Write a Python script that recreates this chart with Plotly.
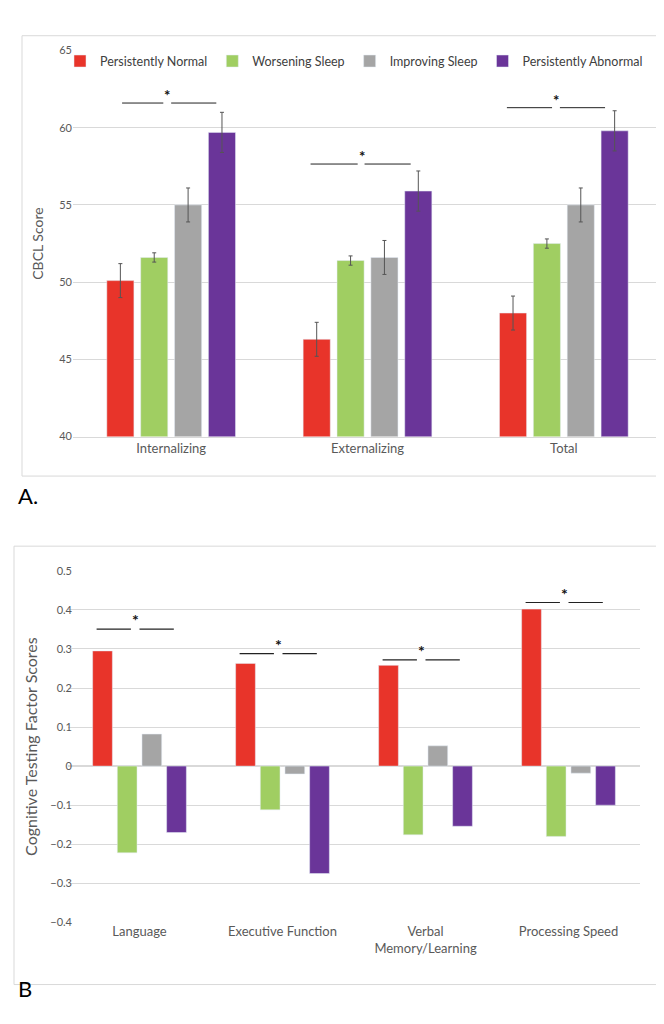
import plotly.graph_objects as go

groups = ["Persistently Normal", "Worsening Sleep", "Improving Sleep", "Persistently Abnormal"]
colors = ["#E8342A", "#A0CE62", "#A5A5A5", "#6A3599"]

cats_a = ["Internalizing", "Externalizing", "Total"]
vals_a = {
    "Persistently Normal": [50.1, 46.3, 48.0],
    "Worsening Sleep": [51.6, 51.4, 52.5],
    "Improving Sleep": [55.0, 51.6, 55.0],
    "Persistently Abnormal": [59.7, 55.9, 59.8],
}
err_a = {
    "Persistently Normal": [1.1, 1.1, 1.1],
    "Worsening Sleep": [0.3, 0.3, 0.3],
    "Improving Sleep": [1.1, 1.1, 1.1],
    "Persistently Abnormal": [1.3, 1.3, 1.3],
}
sig_a = [(-0.25, -0.04, 0.0, 0.23, -0.02, 61.6, 62.1),
         (-0.29, -0.05, -0.015, 0.22, -0.03, 57.65, 58.15),
         (-0.29, -0.06, -0.02, 0.21, -0.04, 61.3, 61.8)]

cats_b = ["Language", "Executive Function", "Verbal<br>Memory/Learning", "Processing Speed"]
vals_b = {
    "Persistently Normal": [0.295, 0.263, 0.258, 0.402],
    "Worsening Sleep": [-0.222, -0.112, -0.176, -0.180],
    "Improving Sleep": [0.082, -0.020, 0.052, -0.018],
    "Persistently Abnormal": [-0.170, -0.275, -0.154, -0.100],
}
sig_b_y = [0.351, 0.288, 0.272, 0.419]
sig_b_star = [0.375, 0.312, 0.296, 0.443]

fig = go.Figure()
for g, c in zip(groups, colors):
    fig.add_trace(go.Bar(x=cats_a, y=vals_a[g], name=g, marker_color=c, xaxis="x", yaxis="y",
                         error_y=dict(type="data", array=err_a[g], color="#555", thickness=1, width=2)))
for g, c in zip(groups, colors):
    fig.add_trace(go.Bar(x=cats_b, y=vals_b[g], name=g, marker_color=c, xaxis="x2", yaxis="y2",
                         showlegend=False))

shapes = []
annotations = []
for i, (a0, a1, b0, b1, s, y, ys) in enumerate(sig_a):
    for x0, x1 in [(a0, a1), (b0, b1)]:
        shapes.append(dict(type="line", xref="x", yref="y", x0=i + x0, x1=i + x1, y0=y, y1=y,
                           line=dict(color="#222", width=1)))
    annotations.append(dict(text="<b>*</b>", xref="x", yref="y", x=i + s, y=ys, showarrow=False,
                            font=dict(size=15, color="#111")))
for i, (y, ys) in enumerate(zip(sig_b_y, sig_b_star)):
    for x0, x1 in [(-0.3, -0.06), (0.0, 0.24)]:
        shapes.append(dict(type="line", xref="x2", yref="y2", x0=i + x0, x1=i + x1, y0=y, y1=y,
                           line=dict(color="#222", width=1.2)))
    annotations.append(dict(text="<b>*</b>", xref="x2", yref="y2", x=i - 0.03, y=ys, showarrow=False,
                            font=dict(size=16, color="#111")))

shapes.append(dict(type="rect", xref="paper", yref="paper", x0=14/664, x1=1.0, y0=1-467/1024, y1=1-21/1024,
                   line=dict(color="#D9D9D9", width=1)))
shapes.append(dict(type="rect", xref="paper", yref="paper", x0=6/664, x1=1.0, y0=1-982/1024, y1=1-538/1024,
                   line=dict(color="#D9D9D9", width=1)))
annotations.append(dict(text="A.", xref="paper", yref="paper", x=8/664, y=1-487/1024, showarrow=False,
                        xanchor="left", font=dict(size=22, color="#000")))
annotations.append(dict(text="B", xref="paper", yref="paper", x=8/664, y=1-1002/1024, showarrow=False,
                        xanchor="left", font=dict(size=22, color="#000")))

tick_font = dict(size=11, color="#595959")
fig.update_layout(
    width=664, height=1024, margin=dict(l=0, r=0, t=0, b=0),
    paper_bgcolor="white", plot_bgcolor="white",
    font=dict(family="Lato", color="#595959"),
    barmode="group", bargap=0.31, bargroupgap=0.2,
    shapes=shapes, annotations=annotations,
    legend=dict(orientation="h", x=346/664, xanchor="center", y=1-47/1024, yanchor="middle",
                font=dict(size=12.5, color="#404040"), itemwidth=30,
                traceorder="normal", bgcolor="rgba(0,0,0,0)", tracegroupgap=0),
    xaxis=dict(domain=[65/664, 654/664], anchor="y", tickfont=dict(size=13, color="#595959"),
               showline=True, linecolor="#D9D9D9", ticks=""),
    yaxis=dict(domain=[1-427/1024, 1-36/1024], range=[40, 65], dtick=5, tickfont=tick_font,
               gridcolor="#D9D9D9", showline=False, zeroline=False,
               title=dict(text="CBCL Score", font=dict(size=14, color="#595959"), standoff=12)),
    xaxis2=dict(domain=[60/664, 632/664], anchor="y2", tickfont=dict(size=13, color="#595959"), ticks=""),
    yaxis2=dict(domain=[1-919/1024, 1-563/1024], range=[-0.4, 0.5], dtick=0.1, tickfont=tick_font,
                tickformat="~g", gridcolor="#D9D9D9", zeroline=True, zerolinecolor="#D9D9D9",
                title=dict(text="Cognitive Testing Factor Scores", font=dict(size=16, color="#595959"),
                           standoff=8)),
)
fig.write_html("out.html")
